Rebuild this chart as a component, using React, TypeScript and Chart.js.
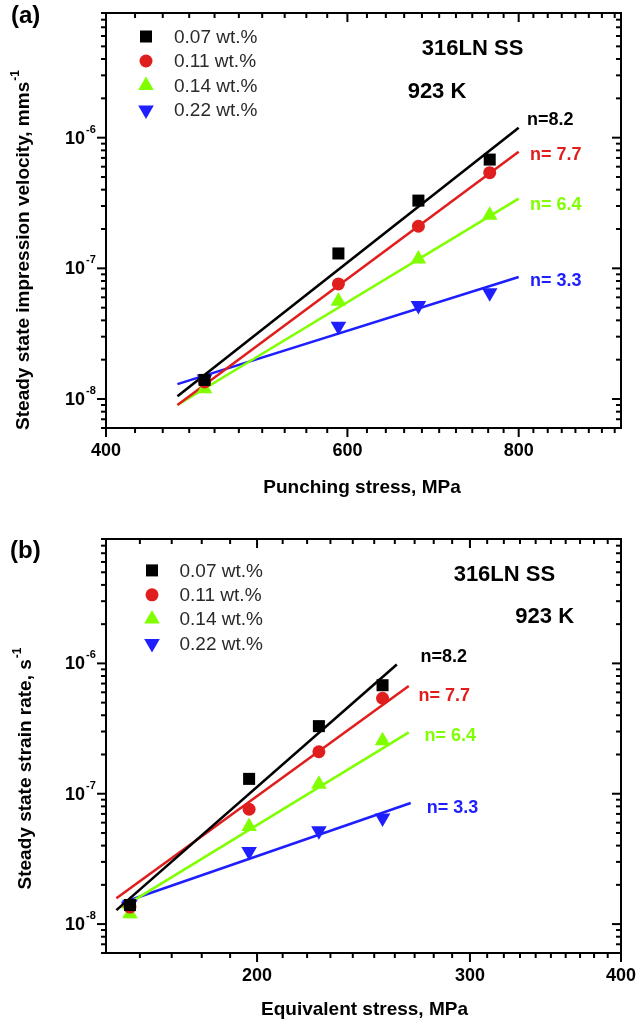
import React, { useEffect, useRef } from "react";
import { Chart, registerables } from "chart.js";
import { drawPoint } from "chart.js/helpers";

Chart.register(...registerables);

// ---------------- data ----------------
const concentrations = ["0.07 wt.%", "0.11 wt.%", "0.14 wt.%", "0.22 wt.%"];

// x values: panel (a) punching stress, panel (b) equivalent stress (MPa)
const punchingStress = [472, 591, 676, 762];
const equivalentStress = [157, 197, 225, 254];

// steady state rates (same measurements in both panels)
const rate007 = [1.4e-8, 1.3e-7, 3.3e-7, 6.8e-7];
const rate011 = [1.35e-8, 7.6e-8, 2.1e-7, 5.4e-7];
const rate014 = [1.2e-8, 5.6e-8, 1.18e-7, 2.55e-7];
const rate022 = [1.42e-8, 3.6e-8, 5.2e-8, 6.5e-8];

const stressExponents = ["n=8.2", "n= 7.7", "n= 6.4", "n= 3.3"];

// power-law fit lines, panel (a): end points
const fitPunchX = [451, 800];
const fitPunchY007 = [1.05e-8, 1.19e-6];
const fitPunchY011 = [9.0e-9, 7.8e-7];
const fitPunchY014 = [9.0e-9, 3.42e-7];
const fitPunchY022 = [1.3e-8, 8.6e-8];

// power-law fit lines, panel (b): end points
const fitEquivX007 = [153, 261];
const fitEquivY007 = [1.28e-8, 9.8e-7];
const fitEquivX011 = [153, 267];
const fitEquivY011 = [1.58e-8, 6.7e-7];
const fitEquivX014 = [154.5, 267];
const fitEquivY014 = [1.33e-8, 2.96e-7];
const fitEquivX022 = [154.5, 268];
const fitEquivY022 = [1.45e-8, 8.5e-8];

// axis ticks
const punchMajorTicks = [400, 600, 800];
const equivMajorTicks = [200, 300, 400];
const rateMajorTicks = [1e-8, 1e-7, 1e-6];
const rateTickExponents = ["-8", "-7", "-6"];

// ---------------- styles ----------------
const seriesColors = ["#000000", "#e01e1e", "#80ff00", "#1e1eff"];
const pointStyles = ["rect", "circle", "triangle", "triangle"];
const pointRotations = [0, 0, 0, 180];
const pointRadii = [8.5, 6.5, 9, 9];
const FONT = "'Liberation Sans', Arial, Helvetica, sans-serif";

type Panel = {
  height: number;
  pad: { left: number; right: number; top: number; bottom: number };
  xMin: number;
  xMax: number;
  yMin: number;
  yMax: number;
  xs: number[];
  fitX: number[][];
  fitY: number[][];
  xMajor: number[];
  xMinorStep: number;
  tag: string;
  tagPos: [number, number];
  xTitle: string;
  xTitleY: number;
  xTitleX: number;
  yTitle: string;
  yTitleCenter: [number, number];
  legendMarkerX: number;
  legendTextX: number;
  legendRows: number[];
  notes: { text: string; x: number; y: number }[];
  nLabels: [number, number][];
};

const rates = [rate007, rate011, rate014, rate022];

const panelA: Panel = {
  height: 500,
  pad: { left: 106, right: 15, top: 13, bottom: 72 },
  xMin: 400,
  xMax: 950,
  yMin: 6e-9,
  yMax: 9e-6,
  xs: punchingStress,
  fitX: [fitPunchX, fitPunchX, fitPunchX, fitPunchX],
  fitY: [fitPunchY007, fitPunchY011, fitPunchY014, fitPunchY022],
  xMajor: punchMajorTicks,
  xMinorStep: 20,
  tag: "(a)",
  tagPos: [11, 16],
  xTitle: "Punching stress, MPa",
  xTitleX: 362,
  xTitleY: 488,
  yTitle: "Steady state impression velocity, mms",
  yTitleCenter: [24, 250],
  legendMarkerX: 146,
  legendTextX: 174,
  legendRows: [36.5, 61, 85.5, 110],
  notes: [
    { text: "316LN SS", x: 472.6, y: 48.6 },
    { text: "923 K", x: 437, y: 92 },
  ],
  nLabels: [
    [527, 120],
    [530, 155],
    [530, 205],
    [530, 281],
  ],
};

const panelB: Panel = {
  height: 525,
  pad: { left: 106, right: 15, top: 39, bottom: 72 },
  xMin: 150,
  xMax: 400,
  yMin: 6e-9,
  yMax: 9e-6,
  xs: equivalentStress,
  fitX: [fitEquivX007, fitEquivX011, fitEquivX014, fitEquivX022],
  fitY: [fitEquivY007, fitEquivY011, fitEquivY014, fitEquivY022],
  xMajor: equivMajorTicks,
  xMinorStep: 10,
  tag: "(b)",
  tagPos: [10, 51],
  xTitle: "Equivalent stress, MPa",
  xTitleX: 364.5,
  xTitleY: 510,
  yTitle: "Steady state strain rate, s",
  yTitleCenter: [26, 268.5],
  legendMarkerX: 152,
  legendTextX: 179.5,
  legendRows: [70.4, 94.8, 118.9, 143.5],
  notes: [
    { text: "316LN SS", x: 504.4, y: 75.4 },
    { text: "923 K", x: 544.7, y: 117.2 },
  ],
  nLabels: [
    [420.5, 157.3],
    [418.5, 195.8],
    [424.6, 236.5],
    [426.7, 307.7],
  ],
};

function decorPlugin(p: Panel) {
  return {
    id: "decor",
    afterDraw(chart: any) {
      const ctx: CanvasRenderingContext2D = chart.ctx;
      const a = chart.chartArea;
      const xs = chart.scales.x;
      const ys = chart.scales.y;
      ctx.save();
      ctx.strokeStyle = "#000";
      ctx.fillStyle = "#000";
      ctx.lineWidth = 2;
      ctx.lineCap = "butt";
      // frame
      ctx.strokeRect(a.left, a.top, a.right - a.left, a.bottom - a.top);

      const line = (x1: number, y1: number, x2: number, y2: number) => {
        ctx.beginPath();
        ctx.moveTo(x1, y1);
        ctx.lineTo(x2, y2);
        ctx.stroke();
      };
      const MAJ = 9;
      const MIN = 5;
      // x ticks
      const xTicks: { v: number; major: boolean }[] = [];
      for (let v = p.xMin; v <= p.xMax + 1e-9; v += p.xMinorStep) {
        xTicks.push({ v, major: p.xMajor.includes(v) });
      }
      xTicks.forEach(({ v, major }) => {
        const px = xs.getPixelForValue(v);
        if (px <= a.left + 1 || px >= a.right - 1) {
          if (!major) return;
        }
        const len = major ? MAJ : MIN;
        line(px, a.bottom, px, a.bottom + len);
        line(px, a.top, px, a.top + len);
      });
      // y ticks
      for (let e = -9; e <= -5; e++) {
        for (let k = 1; k <= 9; k++) {
          const v = k * Math.pow(10, e);
          if (v < p.yMin * 0.999 || v > p.yMax * 1.001) continue;
          const py = ys.getPixelForValue(v);
          const len = k === 1 ? MAJ : MIN;
          line(a.left - len, py, a.left, py);
          line(a.right - len, py, a.right, py);
        }
      }

      // x tick labels
      ctx.font = `bold 18px ${FONT}`;
      ctx.textAlign = "center";
      ctx.textBaseline = "middle";
      p.xMajor.forEach((v) => {
        ctx.fillText(String(v), xs.getPixelForValue(v), a.bottom + 23);
      });
      // y tick labels 10^e
      rateMajorTicks.forEach((v, i) => {
        const py = ys.getPixelForValue(v);
        ctx.font = `bold 18px ${FONT}`;
        ctx.textAlign = "right";
        ctx.textBaseline = "middle";
        ctx.fillText("10", a.left - 21, py + 1);
        ctx.font = `bold 11px ${FONT}`;
        ctx.textAlign = "left";
        ctx.fillText(rateTickExponents[i], a.left - 20, py - 8);
      });

      // axis titles
      ctx.font = `bold 19px ${FONT}`;
      ctx.textAlign = "center";
      ctx.textBaseline = "middle";
      ctx.fillText(p.xTitle, p.xTitleX, p.xTitleY);

      ctx.save();
      ctx.translate(p.yTitleCenter[0], p.yTitleCenter[1]);
      ctx.rotate(-Math.PI / 2);
      ctx.font = `bold 19px ${FONT}`;
      const wMain = ctx.measureText(p.yTitle).width;
      ctx.font = `bold 12px ${FONT}`;
      const wSup = ctx.measureText("-1").width;
      const start = -(wMain + wSup + 1) / 2;
      ctx.textAlign = "left";
      ctx.font = `bold 19px ${FONT}`;
      ctx.fillText(p.yTitle, start, 0);
      ctx.font = `bold 12px ${FONT}`;
      ctx.fillText("-1", start + wMain + 1, -8);
      ctx.restore();

      // panel tag
      ctx.font = `bold 24px ${FONT}`;
      ctx.textAlign = "left";
      ctx.textBaseline = "middle";
      ctx.fillText(p.tag, p.tagPos[0], p.tagPos[1]);

      // legend
      concentrations.forEach((label, i) => {
        const y = p.legendRows[i];
        ctx.fillStyle = seriesColors[i];
        drawPoint(
          ctx,
          {
            pointStyle: pointStyles[i],
            rotation: pointRotations[i],
            radius: pointRadii[i],
            borderWidth: 0,
          } as any,
          p.legendMarkerX,
          y
        );
        ctx.fillStyle = "#2a2a2a";
        ctx.font = `19px ${FONT}`;
        ctx.textAlign = "left";
        ctx.textBaseline = "middle";
        ctx.fillText(label, p.legendTextX, y + 1);
      });

      // notes
      ctx.fillStyle = "#000";
      ctx.font = `bold 22px ${FONT}`;
      ctx.textAlign = "center";
      p.notes.forEach((n) => ctx.fillText(n.text, n.x, n.y));

      // stress exponent labels
      ctx.font = `bold 18px ${FONT}`;
      ctx.textAlign = "left";
      stressExponents.forEach((t, i) => {
        ctx.fillStyle = seriesColors[i];
        ctx.fillText(t, p.nLabels[i][0], p.nLabels[i][1]);
      });
      ctx.restore();
    },
  };
}

function buildChart(canvas: HTMLCanvasElement, p: Panel) {
  const datasets: any[] = [];
  rates.forEach((r, i) => {
    datasets.push({
      type: "scatter",
      label: concentrations[i],
      data: p.xs.map((x, j) => ({ x, y: r[j] })),
      pointStyle: pointStyles[i],
      rotation: pointRotations[i],
      pointRadius: pointRadii[i],
      backgroundColor: seriesColors[i],
      borderColor: seriesColors[i],
      borderWidth: 0,
      showLine: false,
      order: 0,
    });
  });
  p.fitX.forEach((fx, i) => {
    datasets.push({
      type: "line",
      label: stressExponents[i],
      data: fx.map((x, j) => ({ x, y: p.fitY[i][j] })),
      borderColor: seriesColors[i],
      borderWidth: 2.6,
      pointRadius: 0,
      fill: false,
      tension: 0,
      order: 1,
    });
  });
  return new Chart(canvas, {
    type: "scatter",
    data: { datasets },
    options: {
      responsive: false,
      animation: false,
      events: [],
      layout: { padding: p.pad },
      scales: {
        x: { type: "logarithmic", min: p.xMin, max: p.xMax, display: false },
        y: { type: "logarithmic", min: p.yMin, max: p.yMax, display: false },
      },
      plugins: {
        legend: { display: false },
        tooltip: { enabled: false },
      },
    },
    plugins: [decorPlugin(p)],
  } as any);
}

export default function App() {
  const refA = useRef<HTMLCanvasElement>(null);
  const refB = useRef<HTMLCanvasElement>(null);
  useEffect(() => {
    const ca = buildChart(refA.current!, panelA);
    const cb = buildChart(refB.current!, panelB);
    return () => {
      ca.destroy();
      cb.destroy();
    };
  }, []);
  return (
    <div
      style={{
        position: "absolute",
        left: 0,
        top: 0,
        width: 636,
        height: 1025,
        background: "#fff",
      }}
    >
      <canvas ref={refA} width={636} height={panelA.height} style={{ display: "block" }} />
      <canvas ref={refB} width={636} height={panelB.height} style={{ display: "block" }} />
    </div>
  );
}
